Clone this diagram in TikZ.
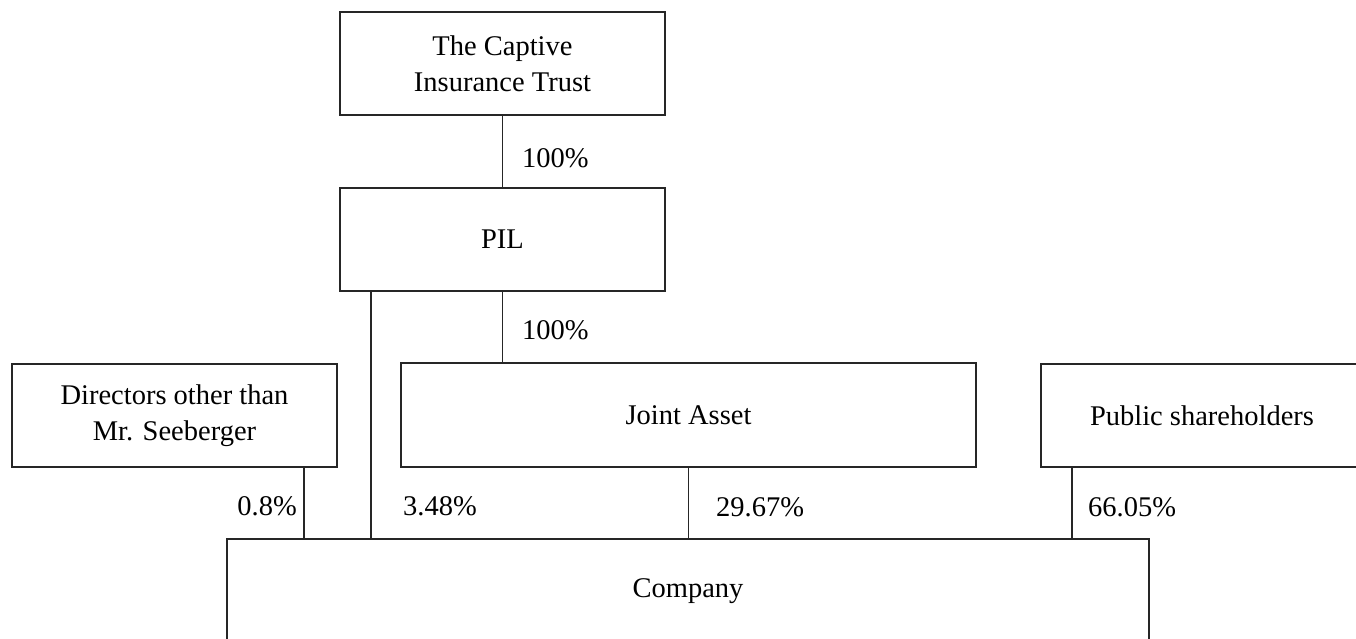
\documentclass[tikz,border=0pt]{standalone}
\usepackage{fontspec}
\setmainfont{Liberation Serif}
\begin{document}
\begin{tikzpicture}[x=1pt,y=-1pt,
  box/.style={draw=black!85,line width=1.3pt,inner sep=0pt,outer sep=0pt,align=center,
    font=\fontsize{28.5}{36}\selectfont},
  pct/.style={inner sep=0pt,font=\fontsize{28.5}{36}\selectfont},
  conn/.style={draw=black!85,line width=1.3pt}]
\useasboundingbox (0,0) rectangle (1356,638);
\clip (0,0) rectangle (1356,638);
\node[box,minimum width=325pt,minimum height=103pt] (trust) at (502.5,63.5) {The Captive\\Insurance Trust};
\node[box,minimum width=325pt,minimum height=103pt] (pil) at (502.5,239.5) {PIL};
\node[box,minimum width=325pt,minimum height=103pt] (dir) at (174.5,415.5) {Directors other than\\Mr. Seeberger};
\node[box,minimum width=575pt,minimum height=104pt] (joint) at (688.5,415) {Joint Asset};
\node[box,minimum width=322pt,minimum height=103pt] (pub) at (1202,415.5) {Public shareholders};
\node[box,minimum width=922pt,minimum height=104pt] (comp) at (688,591) {Company};
\draw[conn] (trust.south) -- (pil.north);
\draw[conn] (pil.south) -- (pil.south |- joint.north);
\coordinate (pilL) at ([xshift=-131.5pt]pil.south);
\draw[conn] (pilL) -- (pilL |- comp.north);
\coordinate (dirR) at ([xshift=129.5pt]dir.south);
\draw[conn] (dirR) -- (dirR |- comp.north);
\draw[conn] (joint.south) -- (joint.south |- comp.north);
\coordinate (pubL) at ([xshift=-130pt]pub.south);
\draw[conn] (pubL) -- (pubL |- comp.north);
\node[pct,anchor=west] (p1) at (522,158) {100\%};
\node[pct,anchor=west] (p2) at (522,330) {100\%};
\node[pct,anchor=east] (p3) at (297,506) {0.8\%};
\node[pct,anchor=west] (p4) at (403,506) {3.48\%};
\node[pct,anchor=west] (p5) at (716,507) {29.67\%};
\node[pct,anchor=west] (p6) at (1088,507) {66.05\%};
\end{tikzpicture}
\end{document}
